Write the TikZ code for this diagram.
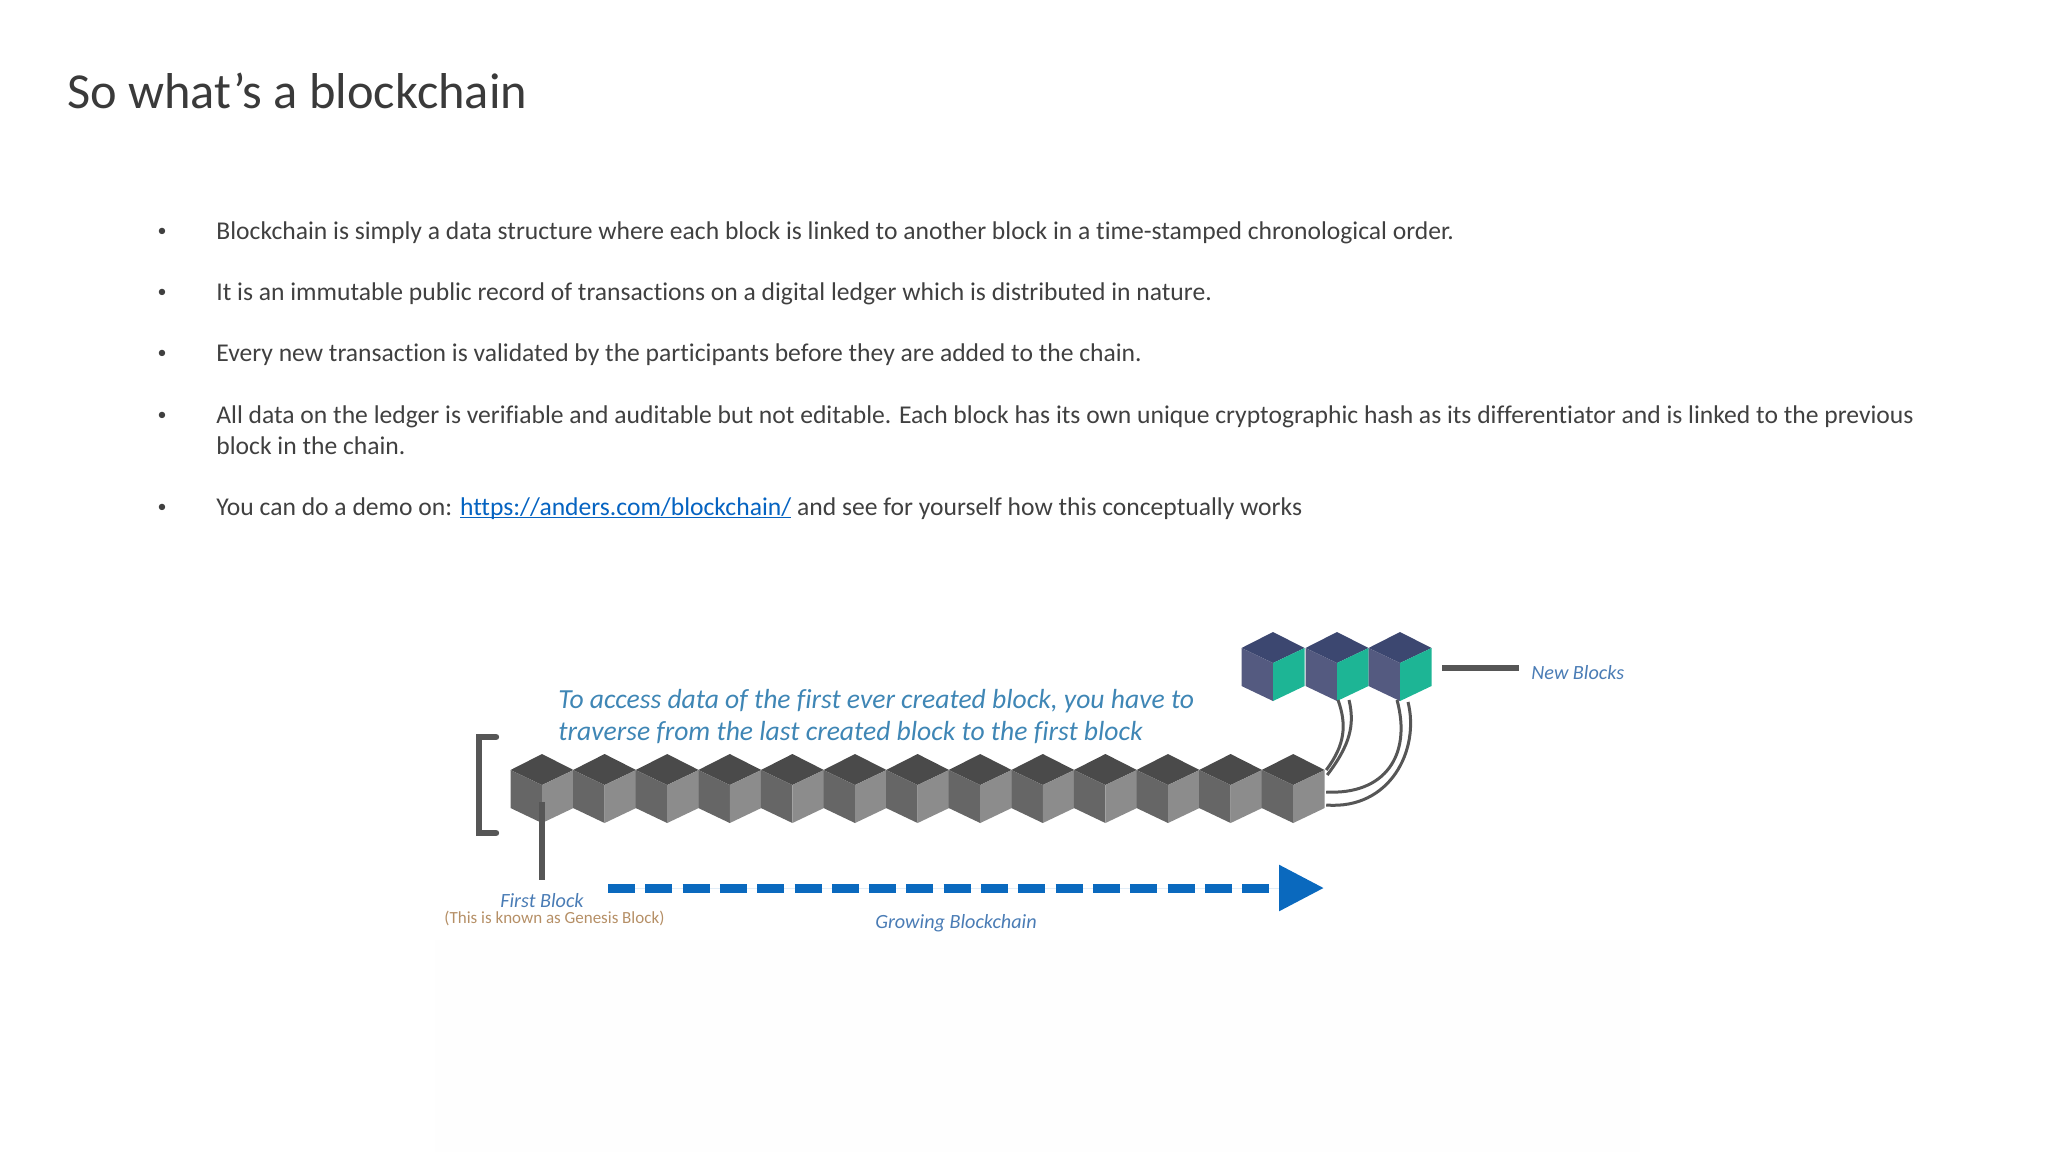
\documentclass[tikz,border=0pt]{standalone}
\usepackage{fontspec}
\setmainfont[Ligatures=NoCommon]{Carlito}
\usetikzlibrary{arrows.meta}
\definecolor{bodygray}{HTML}{404040}
\definecolor{titlegray}{HTML}{3A3A3A}
\definecolor{linkblue}{HTML}{0563C1}
\definecolor{edgegray}{HTML}{565656}
\definecolor{noteblue}{HTML}{3F86B5}
\definecolor{tagblue}{HTML}{4A7CB5}
\definecolor{tagorange}{HTML}{B58F66}
\definecolor{arrowblue}{HTML}{0A69BE}
\definecolor{oldtop}{HTML}{4A4A4A}
\definecolor{oldleft}{HTML}{666666}
\definecolor{oldright}{HTML}{8C8C8C}
\definecolor{newtop}{HTML}{3C4770}
\definecolor{newleft}{HTML}{545A80}
\definecolor{newright}{HTML}{1DB595}
\definecolor{photoback}{HTML}{FEFEFE}
\tikzset{bodytext/.style = {anchor=base west,inner sep=0pt,text=bodygray,font=\fontsize{12.8}{15.35}\selectfont,align=left}}
\tikzset{bulletmark/.style = {anchor=base,inner sep=0pt,text=bodygray,font=\fontsize{9}{10}\selectfont}}
\tikzset{tagtext/.style = {inner sep=0pt,text=tagblue,font=\fontsize{10.1}{11}\selectfont\itshape}}
\tikzset{edgeline/.style = {draw=edgegray,line width=3.2pt}}
\tikzset{linkcurve/.style = {draw=edgegray,line width=1.5pt}}
\tikzset{pics/blockcube/.style n args={3}{code={
    \fill[#1] (0,0) -- (-31.5,-15) -- (0,-31) -- (31.5,-15) -- cycle;
    \fill[#2] (0,0) -- (-31.5,-15) -- (-31.5,23) -- (0,38) -- cycle;
    \fill[#3] (0,0) -- (31.5,-15) -- (31.5,23) -- (0,38) -- cycle;
}}}
\begin{document}
\begin{tikzpicture}[x=0.5pt,y=-0.5pt]
                \useasboundingbox (0,0) rectangle (2048,1152);
                \fill[photoback] (435,940) rectangle (1640,1152);
                \node[anchor=base west,inner sep=0pt,text=titlegray,font=\fontsize{25.2}{28}\selectfont] (title) at (67,108) {So what’s a blockchain};
                \foreach \ypos in {236,297,358,420,512}
                    \node[bulletmark] (bul\ypos) at (162,\ypos) {•};
                \node[bodytext] (line1) at (216,239) {Blockchain is simply a data structure where each block is linked to another block in a time-stamped chronological order.};
                \node[bodytext] (line2) at (216,300.5) {It is an immutable public record of transactions on a digital ledger which is distributed in nature.};
                \node[bodytext] (line3) at (216,361.5) {Every new transaction is validated by the participants before they are added to the chain.};
                \node[bodytext] (line4) at (216,454) {All data on the ledger is verifiable and auditable but not editable. Each block has its own unique cryptographic hash as its differentiator and is linked to the previous\\block in the chain.};
                \node[bodytext] (line5) at (216,515) {You can do a demo on: {\color{linkblue}\underline{\smash{https://anders.com/blockchain/}}} and see for yourself how this conceptually works};
                \foreach \i in {0,...,12}
                    \path (542+62.6*\i,785) coordinate (old\i) pic {blockcube={oldtop}{oldleft}{oldright}};
                \foreach \i/\xpos in {0/1273,1/1337,2/1400}
                    \path (\xpos,663) coordinate (new\i) pic {blockcube={newtop}{newleft}{newright}};
                \draw[edgeline,line cap=round] (496,737) -- (479,737) -- (479,833) -- (496,833);
                \coordinate (stem) at (542,880);
                \draw[edgeline] (old0) ++(0,17) -- (stem);
                \coordinate (newa) at (1442,668);
                \coordinate (newb) at (1519,668);
                \draw[edgeline] (newa) -- (newb);
                \draw[linkcurve] (old12) ++(33,-15) .. controls (1345,745) and (1347,725) .. (1338,700);
                \draw[linkcurve] (old12) ++(34,-10) .. controls (1350,745) and (1355,725) .. (1349,700);
                \draw[linkcurve] (old12) ++(33,7) .. controls (1385,795) and (1412,755) .. (1397,700);
                \draw[linkcurve] (old12) ++(33,20) .. controls (1390,810) and (1420,750) .. (1408,702);
                \coordinate (growa) at (608,888);
                \coordinate (growb) at (1324,888);
                \draw[draw=arrowblue,fill=arrowblue,line width=4.5pt,dash pattern=on 13.5pt off 5.15pt,-{Triangle[length=22.5pt,width=22pt]}] (growa) -- (growb);
                \node[anchor=base west,inner sep=0pt,text=noteblue,font=\fontsize{13.8}{16}\selectfont\itshape,align=left] (note) at (558,740) {To access data of the first ever created block, you have to\\traverse from the last created block to the first block};
                \node[tagtext,anchor=base] (first) at (542,907) {First Block};
                \node[anchor=base west,inner sep=0pt,text=tagorange,font=\fontsize{8.5}{10}\selectfont] (genesis) at (444,923) {(This is known as Genesis Block)};
                \node[tagtext,anchor=base] (growing) at (956,928) {Growing Blockchain};
                \node[tagtext,anchor=base west] (newtag) at (1531,679) {New Blocks};
            \end{tikzpicture}
\end{document}
